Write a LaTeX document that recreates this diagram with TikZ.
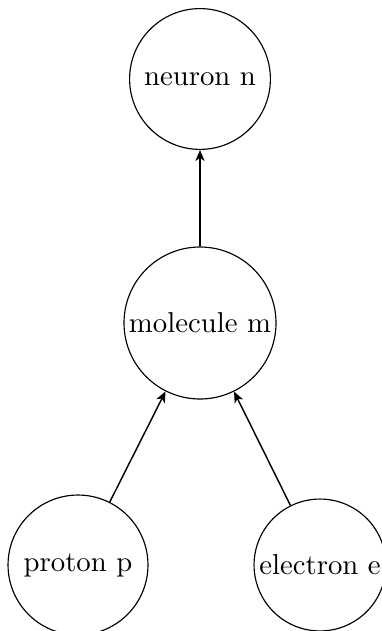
\documentclass[tikz,border=0pt]{standalone}
\usetikzlibrary{arrows.meta}
\begin{document}
\begin{tikzpicture}[x=0.348pt,y=-0.348pt,
  ball/.style={draw, circle, inner sep=0pt, line width=0.4pt},
  link/.style={-{Stealth[length=3.8pt,width=3.2pt,inset=1pt]}, line width=0.5pt}]
\useasboundingbox (0,0) rectangle (382,631);
\node[ball, minimum size=49pt] (n) at (200,79) {neuron n};
\node[ball, minimum size=52.9pt] (m) at (200,323) {molecule m};
\node[ball, minimum size=48.7pt] (p) at (78,565) {proton p};
\node[ball, minimum size=45.9pt] (e) at (320,565) {electron e};
\draw[link] (m) -- (n);
\draw[link] (p) -- (m);
\draw[link] (e) -- (m);
\end{tikzpicture}
\end{document}
